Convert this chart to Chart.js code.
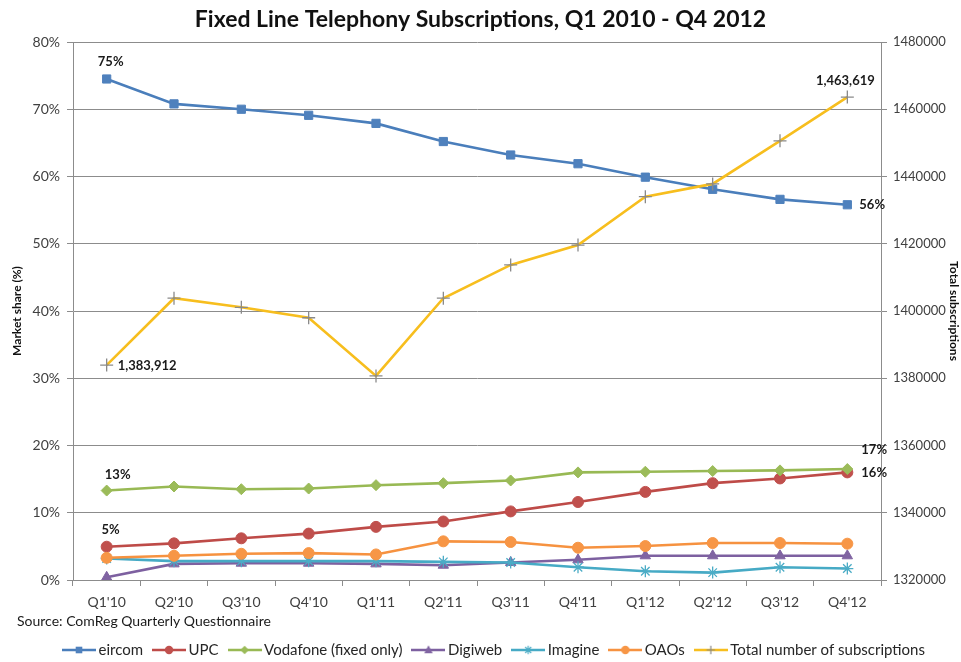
<!DOCTYPE html>
<html><head><meta charset="utf-8">
<script src="https://cdn.jsdelivr.net/npm/chart.js@4/dist/chart.umd.min.js"></script>
<style>html,body{margin:0;padding:0;background:#fff}#wrap{width:961px;height:662px}</style>
</head><body><div id="wrap"><canvas id="c" width="961" height="662"></canvas></div>
<script>
// ---- data ----
const quarters = ["Q1'10","Q2'10","Q3'10","Q4'10","Q1'11","Q2'11","Q3'11","Q4'11","Q1'12","Q2'12","Q3'12","Q4'12"];
const eircom   = [74.5,70.8,70.0,69.1,67.9,65.2,63.2,61.9,59.9,58.1,56.6,55.8];
const upc      = [4.95,5.45,6.2,6.9,7.9,8.7,10.2,11.6,13.1,14.4,15.1,16.0];
const vodafone = [13.3,13.9,13.5,13.6,14.1,14.4,14.8,16.0,16.1,16.2,16.3,16.5];
const digiweb  = [0.4,2.4,2.5,2.5,2.4,2.2,2.6,3.0,3.6,3.6,3.6,3.6];
const imagine  = [3.2,2.8,2.8,2.8,2.8,2.7,2.6,1.9,1.3,1.1,1.9,1.7];
const oaos     = [3.3,3.6,3.9,4.0,3.8,5.75,5.65,4.8,5.05,5.5,5.5,5.4];
const totalSubs = [1383912,1403800,1401100,1398000,1380700,1403800,1413700,1419600,1434000,1437800,1450600,1463619];
const seriesNames = ["eircom","UPC","Vodafone (fixed only)","Digiweb","Imagine","OAOs","Total number of subscriptions"];
const shareTickLabels = ["0%","10%","20%","30%","40%","50%","60%","70%","80%"];
const totalTickLabels = ["1320000","1340000","1360000","1380000","1400000","1420000","1440000","1460000","1480000"];
const titleText = "Fixed Line Telephony Subscriptions, Q1 2010 - Q4 2012";
const sourceText = "Source: ComReg Quarterly Questionnaire";

// ---- styles ----
const FONT = "Lato, 'Open Sans', sans-serif";
const styles = [
  {color:'#4A7EBB', fill:'#4F81BD', ps:'rect', r:5.8},
  {color:'#BE4B48', fill:'#C0504D', ps:'circle', r:5.5},
  {color:'#98B954', fill:'#9BBB59', ps:'rectRot', r:5.5},
  {color:'#7D60A0', fill:'#8064A2', ps:'triangle', r:6},
  {color:'#46AAC5', fill:'#4BACC6', ps:'star', r:6},
  {color:'#F69240', fill:'#F79646', ps:'circle', r:5.5},
  {color:'#F7BE1E', fill:'#8A8A8A', ps:'cross', r:6.5}
];
const values = [eircom, upc, vodafone, digiweb, imagine, oaos, totalSubs];

const datasets = values.map((v, k) => ({
  label: seriesNames[k],
  data: v,
  yAxisID: k === 6 ? 'yR' : 'y',
  borderColor: styles[k].color,
  backgroundColor: styles[k].fill,
  pointBackgroundColor: styles[k].fill,
  pointBorderColor: k === 6 ? '#8A8A8A' : styles[k].fill,
  pointBorderWidth: k === 4 || k === 6 ? 1.3 : 1,
  pointStyle: styles[k].ps,
  pointRadius: styles[k].r,
  borderWidth: 2.6,
  tension: 0,
  fill: false,
  order: 6 - k
}));

const ICON_W = 34;
function legendIcon(k) {
  const c = document.createElement('canvas');
  c.width = ICON_W; c.height = 14;
  const g = c.getContext('2d');
  const s = styles[k];
  g.strokeStyle = s.color; g.lineWidth = 2.5;
  g.beginPath(); g.moveTo(0, 7); g.lineTo(ICON_W, 7); g.stroke();
  const x = ICON_W / 2, y = 7, r = 4.2;
  g.fillStyle = s.fill; g.strokeStyle = k === 6 ? '#8A8A8A' : s.fill; g.lineWidth = 1.2;
  g.beginPath();
  if (s.ps === 'rect') { g.rect(x - 3.3, y - 3.3, 6.6, 6.6); g.fill(); }
  else if (s.ps === 'circle') { g.arc(x, y, r, 0, Math.PI * 2); g.fill(); }
  else if (s.ps === 'rectRot') { g.moveTo(x, y - r); g.lineTo(x + r, y); g.lineTo(x, y + r); g.lineTo(x - r, y); g.closePath(); g.fill(); }
  else if (s.ps === 'triangle') { g.moveTo(x, y - r - 0.5); g.lineTo(x + r, y + r - 1); g.lineTo(x - r, y + r - 1); g.closePath(); g.fill(); }
  else if (s.ps === 'star') { g.moveTo(x - r, y); g.lineTo(x + r, y); g.moveTo(x - 3, y - 3); g.lineTo(x + 3, y + 3); g.moveTo(x - 3, y + 3); g.lineTo(x + 3, y - 3); g.moveTo(x, y - r); g.lineTo(x, y + r); g.stroke(); }
  else if (s.ps === 'cross') { g.moveTo(x - r, y); g.lineTo(x + r, y); g.moveTo(x, y - r); g.lineTo(x, y + r); g.stroke(); }
  return c;
}
const icons = styles.map((s, k) => legendIcon(k));

const dataLabels = [
  {ds:0, i:0,  text:'75%',       dx:4,  dy:-17, align:'center'},
  {ds:0, i:11, text:'56%',       dx:12, dy:0,   align:'left'},
  {ds:2, i:0,  text:'13%',       dx:11, dy:-16, align:'center'},
  {ds:2, i:11, text:'17%',       dx:14, dy:-19, align:'left'},
  {ds:1, i:0,  text:'5%',        dx:4,  dy:-17, align:'center'},
  {ds:1, i:11, text:'16%',       dx:14, dy:0,   align:'left'},
  {ds:6, i:0,  text:'1,383,912', dx:11, dy:1,   align:'left'},
  {ds:6, i:11, text:'1,463,619', dx:-2, dy:-16, align:'center'}
];

const LEG_PAD = 14, LEG_BOX = 24, LEG_START = 62, LEG_FONT = 15;
const extras = {
  id: 'extras',
  afterLayout(chart) {
    // move the legend row so that it starts where the reference's does
    const lg = chart.legend;
    if (!lg || !lg.lineWidths) return;
    const cur = (lg.left + LEG_PAD + lg.right - lg.lineWidths[0]) / 2 - (ICON_W - LEG_BOX) / 2;
    const d = LEG_START - cur;
    lg.left += d; lg.right += d;
  },
  afterDatasetsDraw(chart) {
    const ctx = chart.ctx;
    ctx.save();
    ctx.font = "bold 13px " + FONT;
    ctx.fillStyle = '#1a1a1a';
    ctx.textBaseline = 'middle';
    dataLabels.forEach(l => {
      const el = chart.getDatasetMeta(l.ds).data[l.i];
      ctx.textAlign = l.align;
      ctx.fillText(l.text, el.x + l.dx, el.y + l.dy);
    });
    ctx.restore();
  },
  afterDraw(chart) {
    const ctx = chart.ctx;
    ctx.save();
    ctx.font = "14px " + FONT;
    ctx.fillStyle = '#1a1a1a';
    ctx.textAlign = 'left';
    ctx.textBaseline = 'middle';
    ctx.fillText(sourceText, 17, 621);
    ctx.restore();
  }
};

const GRID = '#8C8C8C';
const LEG_H = 12 + LEG_PAD + LEG_FONT / 2;
new Chart(document.getElementById('c'), {
  type: 'line',
  data: { labels: quarters, datasets },
  plugins: [extras],
  options: {
    responsive: false,
    devicePixelRatio: 1,
    animation: false,
    layout: { padding: 0 },
    plugins: {
      title: { display: true, text: titleText, color: '#111', font: { family: FONT, size: 23, weight: 'bold' }, padding: { top: 6, bottom: 8.4 } },
      legend: {
        position: 'bottom',
        maxHeight: LEG_H,
        labels: {
          usePointStyle: true, pointStyleWidth: LEG_BOX, padding: LEG_PAD,
          color: '#262626', font: { family: FONT, size: LEG_FONT },
          generateLabels(chart) {
            return chart.data.datasets.map((d, k) => ({
              text: d.label, pointStyle: icons[k], fillStyle: d.backgroundColor,
              strokeStyle: d.borderColor, lineWidth: 0, hidden: false, datasetIndex: k, fontColor: '#262626'
            }));
          }
        }
      },
      tooltip: { enabled: false }
    },
    scales: {
      x: {
        offset: true,
        grid: { display: true, drawOnChartArea: false, drawTicks: true, tickLength: 6, offset: true, color: GRID },
        border: { display: true, color: GRID },
        ticks: { color: '#404040', font: { family: FONT, size: 14 }, padding: 8, maxRotation: 0, autoSkip: false },
        afterFit(s) { s.height = 662 - LEG_H - 580; }
      },
      y: {
        position: 'left', min: 0, max: 80,
        grid: { color: GRID, drawTicks: true, tickLength: 6 },
        border: { display: true, color: GRID },
        ticks: { stepSize: 10, color: '#404040', font: { family: FONT, size: 14 }, padding: 7,
          callback: (v) => shareTickLabels[Math.round(v / 10)] },
        title: { display: true, text: 'Market share (%)', color: '#111', font: { family: FONT, size: 12, weight: 'bold' }, padding: { top: 10, bottom: 0 } },
        afterFit(s) { s.width = 73; }
      },
      yR: {
        position: 'right', min: 1320000, max: 1480000,
        grid: { drawOnChartArea: false, drawTicks: true, tickLength: 6, color: GRID },
        border: { display: true, color: GRID },
        ticks: { stepSize: 20000, color: '#404040', font: { family: FONT, size: 13 }, padding: 6,
          callback: (v) => totalTickLabels[Math.round((v - 1320000) / 20000)] },
        title: { display: true, text: 'Total subscriptions', color: '#111', font: { family: FONT, size: 12, weight: 'bold' }, padding: { top: 0, bottom: 0 } },
        afterFit(s) { s.width = 80; }
      }
    }
  }
});
</script></body></html>
